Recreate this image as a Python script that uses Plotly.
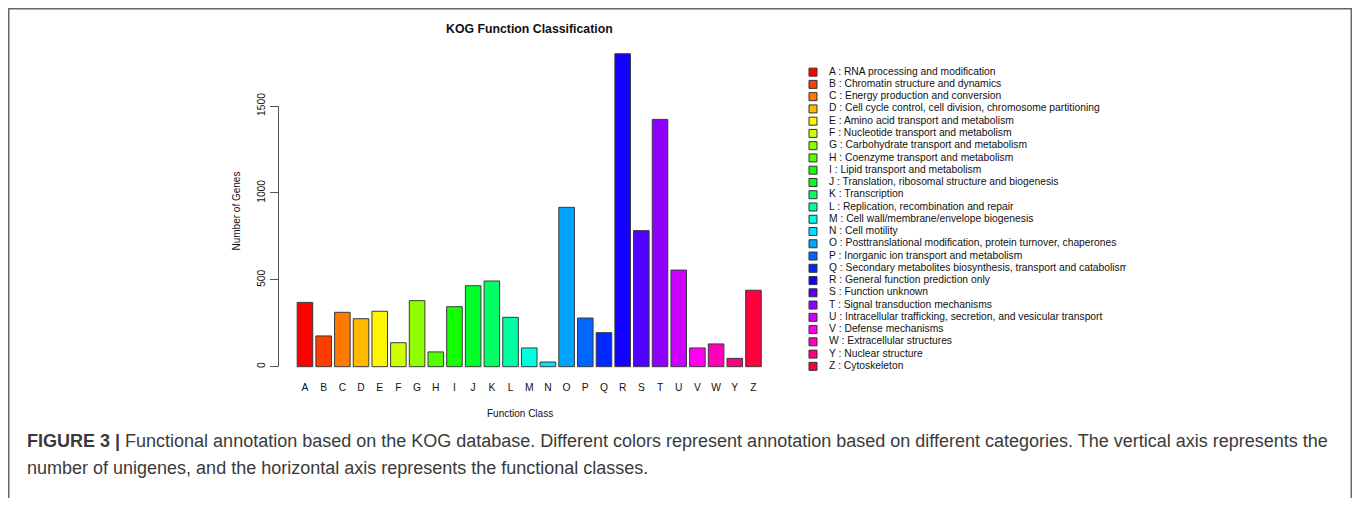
import plotly.graph_objects as go

# The page body has an 8px margin; keep the figure inside the window so no scrollbars appear.
PAGE_W, PAGE_H = 1360, 506
OFF = 8
W, H = PAGE_W - 2 * OFF, PAGE_H - 2 * OFF

categories = ["A", "B", "C", "D", "E", "F", "G", "H", "I", "J", "K", "L", "M",
              "N", "O", "P", "Q", "R", "S", "T", "U", "V", "W", "Y", "Z"]
gene_counts = [370, 177, 313, 276, 319, 138, 380, 85, 345, 466, 493, 284, 108,
               27, 917, 280, 196, 1801, 783, 1423, 556, 108, 131, 48, 440]
descriptions = [
    "RNA processing and modification",
    "Chromatin structure and dynamics",
    "Energy production and conversion",
    "Cell cycle control, cell division, chromosome partitioning",
    "Amino acid transport and metabolism",
    "Nucleotide transport and metabolism",
    "Carbohydrate transport and metabolism",
    "Coenzyme transport and metabolism",
    "Lipid transport and metabolism",
    "Translation, ribosomal structure and biogenesis",
    "Transcription",
    "Replication, recombination and repair",
    "Cell wall/membrane/envelope biogenesis",
    "Cell motility",
    "Posttranslational modification, protein turnover, chaperones",
    "Inorganic ion transport and metabolism",
    "Secondary metabolites biosynthesis, transport and catabolism",
    "General function prediction only",
    "Function unknown",
    "Signal transduction mechanisms",
    "Intracellular trafficking, secretion, and vesicular transport",
    "Defense mechanisms",
    "Extracellular structures",
    "Nuclear structure",
    "Cytoskeleton",
]
colors = ["#FF0000", "#FF3D00", "#FF7A00", "#FFB800", "#FFF500", "#CCFF00",
          "#8FFF00", "#52FF00", "#14FF00", "#00FF29", "#00FF66", "#00FFA3",
          "#00FFE0", "#00E0FF", "#00A3FF", "#0066FF", "#0029FF", "#1400FF",
          "#5200FF", "#8F00FF", "#CC00FF", "#FF00F5", "#FF00B8", "#FF007A",
          "#FF003D"]
y_ticks = [0, 500, 1000, 1500]

title_text = "KOG Function Classification"
x_title = "Function Class"
y_title = "Number of Genes"
caption_1 = ("<b>FIGURE 3 |</b> Functional annotation based on the KOG database. Different colors "
             "represent annotation based on different categories. The vertical axis represents the")
caption_2 = "number of unigenes, and the horizontal axis represents the functional classes."


def px_x(p):
    """page pixel x -> paper fraction"""
    return (p - OFF) / W


def px_y(p):
    """page pixel y -> paper fraction"""
    return 1 - (p - OFF) / H


FONT = "Liberation Sans, Arial, Helvetica, sans-serif"

fig = go.Figure()

fig.add_trace(go.Bar(
    x=categories, y=gene_counts, width=0.833,
    marker=dict(color=colors, line=dict(color="#3a3a3a", width=1)),
    showlegend=False, hoverinfo="x+y",
))

legend_labels = [f"{c} : {d}" for c, d in zip(categories, descriptions)]
legend_rows = list(range(len(categories)))

fig.add_trace(go.Scatter(
    x=[13] * len(categories), y=legend_rows, mode="markers",
    marker=dict(symbol="square", size=8, color=colors, line=dict(color="#333", width=1)),
    xaxis="x2", yaxis="y2", showlegend=False, hoverinfo="skip",
))
fig.add_trace(go.Scatter(
    x=[29] * len(categories), y=legend_rows, mode="text", text=legend_labels,
    textposition="middle right", textfont=dict(family=FONT, size=10.3, color="#111"),
    xaxis="x2", yaxis="y2", showlegend=False, hoverinfo="skip", cliponaxis=True,
))

plot_left, plot_right = 278.5, 783.0
plot_top, plot_bottom = 41.2, 379.2

fig.update_layout(
    width=W, height=H, margin=dict(l=0, r=0, t=0, b=0),
    paper_bgcolor="white", plot_bgcolor="white",
    font=dict(family=FONT, color="#111", size=10),
    xaxis=dict(domain=[px_x(plot_left), px_x(plot_right)], range=[-1.417, 25.58],
               showgrid=False, zeroline=False, showline=False, ticks="",
               tickfont=dict(size=10.3, color="#111"), fixedrange=True),
    yaxis=dict(domain=[px_y(plot_bottom), px_y(plot_top)], range=[-72, 1873],
               showgrid=False, zeroline=False, showline=False,
               tickvals=y_ticks, ticks="outside", ticklen=8, tickcolor="#555", tickwidth=1,
               tickangle=-90, tickfont=dict(size=10.3, color="#111"), fixedrange=True),
    xaxis2=dict(domain=[px_x(800), px_x(1126)], range=[0, 326], visible=False,
                anchor="y2", fixedrange=True),
    yaxis2=dict(domain=[px_y(372.5), px_y(66)], range=[24.5, -0.5], visible=False,
                anchor="x2", fixedrange=True),
    shapes=[
        dict(type="line", xref="paper", yref="y", x0=px_x(plot_left), x1=px_x(plot_left),
             y0=0, y1=1500, line=dict(color="#555", width=1)),
        dict(type="path", xref="paper", yref="paper",
             path=(f"M {px_x(8.75)},{px_y(510)} L {px_x(8.75)},{px_y(8.75)} "
                   f"L {px_x(1351.3)},{px_y(8.75)} L {px_x(1351.3)},{px_y(510)}"),
             line=dict(color="#666", width=1.5)),
    ],
    annotations=[
        dict(text=f"<b>{title_text}</b>", xref="paper", yref="paper", x=px_x(529.5), y=px_y(29),
             showarrow=False, font=dict(size=12.3, color="#111"), xanchor="center", yanchor="middle"),
        dict(text=x_title, xref="paper", yref="paper", x=px_x(520), y=px_y(413),
             showarrow=False, font=dict(size=10, color="#111"), xanchor="center", yanchor="middle"),
        dict(text=y_title, xref="paper", yref="paper", x=px_x(236), y=px_y(211.5),
             showarrow=False, font=dict(size=10, color="#111"), textangle=-90,
             xanchor="center", yanchor="middle"),
        dict(text=caption_1, xref="paper", yref="paper", x=px_x(25), y=px_y(441),
             showarrow=False, font=dict(size=18, color="#3a3a3a"), xanchor="left", yanchor="middle"),
        dict(text=caption_2, xref="paper", yref="paper", x=px_x(25), y=px_y(468),
             showarrow=False, font=dict(size=18, color="#3a3a3a"), xanchor="left", yanchor="middle"),
    ],
)

fig.write_html("out.html")
